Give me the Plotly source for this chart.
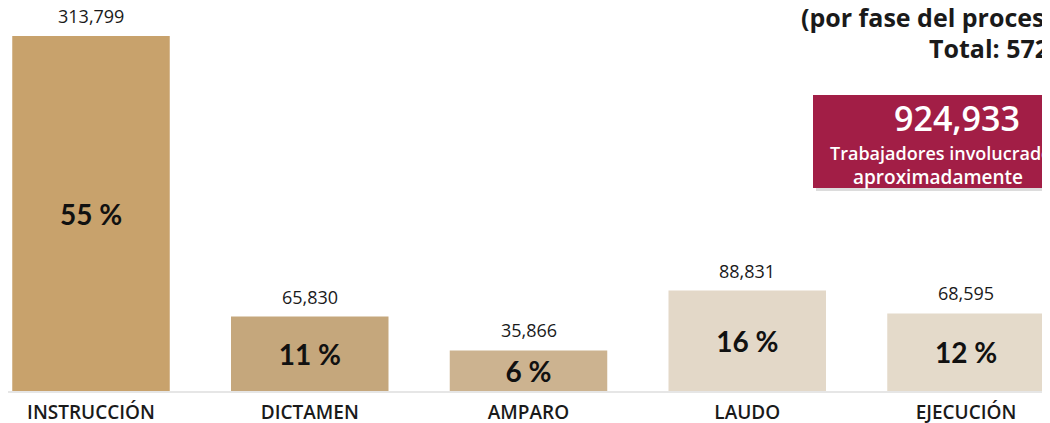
import plotly.graph_objects as go

# Conflictos por fase del proceso
fases = ["INSTRUCCIÓN", "DICTAMEN", "AMPARO", "LAUDO", "EJECUCIÓN"]
asuntos = [313799, 65830, 35866, 88831, 68595]
porcentajes = ["55 %", "11 %", "6 %", "16 %", "12 %"]
colores = ["#C8A26C", "#C5A77C", "#CCB390", "#E3D8C8", "#E4DACA"]

trabajadores = "924,933"
total = sum(asuntos)

# the page body has an 8px margin, so the figure is laid out in
# window pixels minus that offset
OFF = 8
W, H = 1050 - OFF, 423 - OFF
BASE = 391 - OFF  # pixel row of the bar baseline inside the figure
STEP = 218.75     # pixels between bar centres


def px_(wx):
    """paper x for a window pixel column"""
    return (wx - OFF) / W


def py(wy):
    """paper y for a window pixel row"""
    return (BASE - (wy - OFF)) / BASE


fig = go.Figure()

fig.add_trace(go.Bar(
    x=fases,
    y=asuntos,
    width=0.72,
    marker=dict(color=colores, line=dict(width=0)),
    text=porcentajes,
    textposition="inside",
    insidetextanchor="middle",
    textangle=0,
    constraintext="none",
    textfont=dict(family="Lato", size=28, color="#111111", weight=700),
    hoverinfo="skip",
))

# value labels above the bars
for f, v in zip(fases, asuntos):
    fig.add_annotation(
        x=f, y=v, text=f"{v:,}", showarrow=False,
        yanchor="bottom", yshift=6,
        font=dict(family="Open Sans", size=18, color="#1a1a1a", weight=500),
    )

# red box with the number of workers
fig.add_shape(type="rect", xref="paper", yref="paper",
              x0=px_(816), x1=1.2, y0=py(191), y1=py(98),
              fillcolor="#9a9a9a", opacity=0.35, line=dict(width=0), layer="above")
fig.add_shape(type="rect", xref="paper", yref="paper",
              x0=px_(813), x1=1.2, y0=py(188), y1=py(95),
              fillcolor="#A21E46", line=dict(width=0), layer="above")
fig.add_annotation(x=px_(957), y=py(118), xref="paper", yref="paper",
                   text=trabajadores, showarrow=False, xanchor="center", yanchor="middle",
                   font=dict(family="Open Sans", size=34, color="white", weight=600))
fig.add_annotation(x=px_(828), y=py(153), xref="paper", yref="paper",
                   text="Trabajadores involucrados", showarrow=False,
                   xanchor="left", yanchor="middle",
                   font=dict(family="Open Sans", size=18, color="white", weight=600))
fig.add_annotation(x=px_(851), y=py(177), xref="paper", yref="paper",
                   text="aproximadamente", showarrow=False,
                   xanchor="left", yanchor="middle",
                   font=dict(family="Open Sans", size=19, color="white", weight=600))

# title, cut by the right edge as in the slide
fig.add_annotation(x=px_(799), y=py(17), xref="paper", yref="paper",
                   text="(por fase del proceso)", showarrow=False,
                   xanchor="left", yanchor="middle",
                   font=dict(family="Open Sans", size=25, color="#1a1a1a", weight=700))
fig.add_annotation(x=px_(927), y=py(48), xref="paper", yref="paper",
                   text=f"Total: {total:,}", showarrow=False,
                   xanchor="left", yanchor="middle",
                   font=dict(family="Open Sans", size=25, color="#1a1a1a", weight=700))

fig.update_layout(
    width=W, height=H,
    margin=dict(l=0, r=0, t=0, b=H - BASE, autoexpand=False),
    paper_bgcolor="#FFFFFF",
    plot_bgcolor="#FFFFFF",
    showlegend=False,
    xaxis=dict(
        type="category",
        categoryorder="array",
        categoryarray=fases,
        range=[-(91 - OFF) / STEP, (W - (91 - OFF)) / STEP],
        automargin=False,
        showgrid=False,
        showline=True,
        linecolor="#E6E6E6",
        linewidth=2,
        ticks="",
        ticklabelstandoff=3,
        tickfont=dict(family="Open Sans", size=19, color="#1a1a1a", weight=600),
    ),
    yaxis=dict(
        range=[0, max(asuntos) * BASE / (391 - 36)],
        automargin=False,
        visible=False,
        showgrid=False,
        zeroline=False,
    ),
)

fig.write_html("out.html")
